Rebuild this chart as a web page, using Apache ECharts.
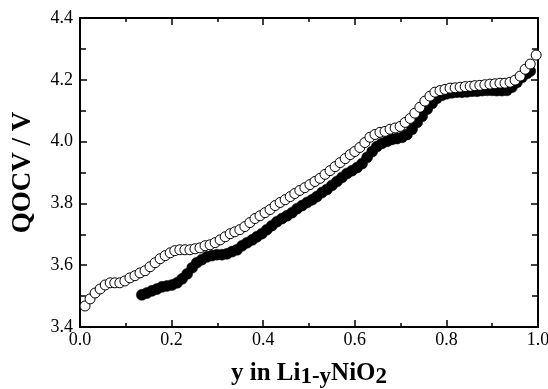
<!DOCTYPE html>
<html>
<head>
<meta charset="utf-8">
<script src="https://cdn.jsdelivr.net/npm/echarts@6/dist/echarts.min.js"></script>
<style>
html,body{margin:0;padding:0;background:#fff;}
#chart{width:548px;height:389px;}
</style>
</head>
<body>
<div id="chart"></div>
<script>
// Charge (open circles)
const openX = [0.011,0.022,0.033,0.044,0.055,0.066,0.076,0.087,0.098,0.109,
  0.120,0.131,0.142,0.153,0.164,0.175,0.186,0.197,0.207,0.218,
  0.229,0.240,0.251,0.262,0.273,0.284,0.295,0.306,0.317,0.328,
  0.338,0.349,0.360,0.371,0.382,0.393,0.404,0.415,0.426,0.437,
  0.448,0.459,0.469,0.480,0.491,0.502,0.513,0.524,0.535,0.546,
  0.557,0.568,0.579,0.590,0.600,0.611,0.622,0.633,0.644,0.655,
  0.666,0.677,0.688,0.699,0.710,0.721,0.731,0.742,0.753,0.764,
  0.775,0.786,0.797,0.808,0.819,0.830,0.841,0.852,0.862,0.873,
  0.884,0.895,0.906,0.917,0.928,0.939,0.950,0.961,0.972,0.983,
  0.996];
const openV = [3.468,3.491,3.510,3.523,3.536,3.543,3.543,3.543,3.549,3.559,
  3.566,3.575,3.582,3.595,3.608,3.621,3.631,3.640,3.647,3.650,
  3.650,3.650,3.653,3.656,3.663,3.666,3.673,3.682,3.692,3.702,
  3.708,3.715,3.725,3.738,3.751,3.760,3.770,3.780,3.793,3.803,
  3.812,3.822,3.832,3.842,3.851,3.861,3.871,3.881,3.894,3.906,
  3.919,3.932,3.945,3.958,3.968,3.981,3.997,4.014,4.023,4.030,
  4.033,4.040,4.044,4.049,4.062,4.075,4.092,4.111,4.131,4.147,
  4.160,4.165,4.169,4.173,4.174,4.176,4.178,4.179,4.181,4.182,
  4.184,4.186,4.187,4.189,4.189,4.192,4.199,4.212,4.234,4.251,
  4.280];
// Discharge (filled circles)
const filledX = [0.135,0.146,0.157,0.168,0.179,0.190,0.201,0.212,0.223,0.234,
  0.245,0.255,0.266,0.277,0.288,0.299,0.310,0.321,0.332,0.343,
  0.354,0.365,0.376,0.386,0.397,0.408,0.419,0.430,0.441,0.452,
  0.463,0.474,0.485,0.496,0.507,0.517,0.528,0.539,0.550,0.561,
  0.572,0.583,0.594,0.605,0.616,0.627,0.638,0.648,0.659,0.670,
  0.681,0.692,0.703,0.714,0.725,0.736,0.747,0.758,0.769,0.779,
  0.790,0.801,0.812,0.823,0.834,0.845,0.856,0.867,0.878,0.889,
  0.900,0.910,0.921,0.932,0.943,0.954,0.965,0.976,0.983];
const filledV = [3.504,3.510,3.517,3.523,3.530,3.533,3.536,3.543,3.556,3.572,
  3.592,3.608,3.618,3.627,3.631,3.634,3.634,3.637,3.644,3.650,
  3.663,3.673,3.682,3.692,3.702,3.715,3.728,3.741,3.751,3.760,
  3.770,3.783,3.793,3.803,3.812,3.822,3.835,3.845,3.858,3.871,
  3.884,3.897,3.906,3.916,3.929,3.949,3.968,3.984,3.994,4.001,
  4.007,4.010,4.014,4.023,4.040,4.062,4.082,4.105,4.124,4.140,
  4.150,4.155,4.158,4.160,4.160,4.161,4.163,4.163,4.165,4.166,
  4.166,4.165,4.165,4.166,4.176,4.192,4.208,4.221,4.228];

const xTickLabels = ['0.0','0.2','0.4','0.6','0.8','1.0'];
const yTickLabels = ['3.4','3.6','3.8','4.0','4.2','4.4'];

const FONT = 'Liberation Serif';
const zip = (xs, ys) => xs.map((x, i) => [x, ys[i]]);

const lineStyle = {color:'#000', width:2};
const tickStyle = {color:'#000', width:1.5};

function xAxisDef(pos, showLabels) {
  return {
    type:'value', position:pos, min:0, max:1, interval:0.2,
    axisLine:{show:true, onZero:false, lineStyle:lineStyle},
    axisTick:{show:true, inside:true, length:7, lineStyle:tickStyle},
    minorTick:{show:true, splitNumber:2, length:4, lineStyle:tickStyle},
    splitLine:{show:false},
    axisLabel:{show:showLabels, margin:4, color:'#000', fontFamily:FONT, fontSize:18,
      formatter:(v)=>xTickLabels[Math.round(v/0.2)]}
  };
}
function yAxisDef(pos, showLabels) {
  return {
    type:'value', position:pos, min:3.4, max:4.4, interval:0.2,
    axisLine:{show:true, onZero:false, lineStyle:lineStyle},
    axisTick:{show:true, inside:true, length:7, lineStyle:tickStyle},
    minorTick:{show:true, splitNumber:2, length:6, lineStyle:tickStyle},
    splitLine:{show:false},
    axisLabel:{show:showLabels, margin:7, color:'#000', fontFamily:FONT, fontSize:18,
      formatter:(v)=>yTickLabels[Math.round((v-3.4)/0.2)]}
  };
}

const xMain = xAxisDef('bottom', true);
xMain.name = '{m|y in Li}{s|1-y}{m|NiO}{s|2}';
xMain.nameLocation = 'middle';
xMain.nameGap = 32;
xMain.nameTextStyle = {
  color:'#000',
  rich:{
    m:{fontFamily:FONT, fontWeight:'bold', fontSize:25, lineHeight:30, color:'#000', verticalAlign:'middle'},
    s:{fontFamily:FONT, fontWeight:'bold', fontSize:23, lineHeight:14, color:'#000', verticalAlign:'bottom'}
  }
};
const yMain = yAxisDef('left', true);
yMain.name = 'QOCV / V';
yMain.nameLocation = 'middle';
yMain.nameGap = 43;
yMain.nameTextStyle = {color:'#000', fontFamily:FONT, fontWeight:'bold', fontSize:27};

const chart = echarts.init(document.getElementById('chart'), null, {renderer:'canvas'});
chart.setOption({
  animation:false,
  backgroundColor:'#fff',
  grid:{left:80, right:10, top:18, bottom:62, containLabel:false, outerBoundsMode:'none'},
  xAxis:[xMain, xAxisDef('top', false)],
  yAxis:[yMain, yAxisDef('right', false)],
  series:[
    {
      name:'discharge', type:'scatter', xAxisIndex:0, yAxisIndex:0,
      symbol:'circle', symbolSize:11,
      itemStyle:{color:'#000', borderColor:'#000', borderWidth:0.5, opacity:1},
      data:zip(filledX, filledV), z:2
    },
    {
      name:'charge', type:'scatter', xAxisIndex:0, yAxisIndex:0,
      symbol:'circle', symbolSize:10,
      itemStyle:{color:'#fff', borderColor:'#000', borderWidth:1, opacity:1},
      data:zip(openX, openV), z:3
    }
  ]
});
</script>
</body>
</html>
